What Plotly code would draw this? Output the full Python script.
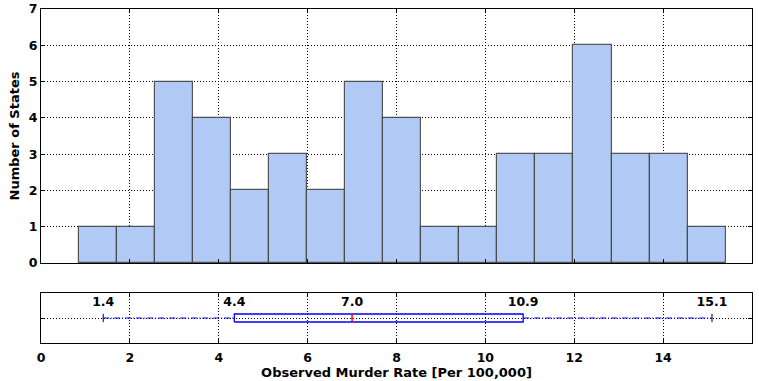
import plotly.graph_objects as go

# ---- data ----
counts = [1, 1, 5, 4, 2, 3, 2, 5, 4, 1, 1, 3, 3, 6, 3, 3, 1]
bin_start = 0.855
bin_width = 0.856
centers = [bin_start + (i + 0.5) * bin_width for i in range(len(counts))]

box_low = 1.4
box_q1 = 4.35
box_median = 7.0
box_q3 = 10.85
box_high = 15.1
box_labels = ["1.4", "4.4", "7.0", "10.9", "15.1"]
box_label_x = [box_low, box_q1, box_median, box_q3, box_high]

x_ticks = [0, 2, 4, 6, 8, 10, 12, 14, 16]
y_ticks = [0, 1, 2, 3, 4, 5, 6, 7]

FONT = "DejaVu Sans"
BLUE = "#0000ff"
BOX_H = 0.08
WHISKER_DASH = "6px,2px,1px,2px"

fig = go.Figure()

fig.add_trace(go.Bar(
    x=centers, y=counts, width=bin_width,
    marker=dict(color="rgb(177,202,245)", line=dict(color="rgba(60,60,60,0.85)", width=1.2)),
    xaxis="x", yaxis="y", showlegend=False, hoverinfo="skip",
))

# whiskers
fig.add_trace(go.Scatter(
    x=[box_low, box_q1], y=[1, 1], mode="lines",
    line=dict(color=BLUE, width=1.2, dash=WHISKER_DASH),
    xaxis="x2", yaxis="y2", showlegend=False,
))
fig.add_trace(go.Scatter(
    x=[box_q3, box_high], y=[1, 1], mode="lines",
    line=dict(color=BLUE, width=1.2, dash=WHISKER_DASH),
    xaxis="x2", yaxis="y2", showlegend=False,
))
# caps
fig.add_trace(go.Scatter(
    x=[box_low, box_high], y=[1, 1], mode="markers",
    marker=dict(symbol="line-ns", size=6, line=dict(color="black", width=1)),
    xaxis="x2", yaxis="y2", showlegend=False,
))
# box
fig.add_trace(go.Scatter(
    x=[box_q1, box_q3, box_q3, box_q1, box_q1],
    y=[1 - BOX_H, 1 - BOX_H, 1 + BOX_H, 1 + BOX_H, 1 - BOX_H],
    mode="lines", line=dict(color=BLUE, width=1.3),
    xaxis="x2", yaxis="y2", showlegend=False,
))
# median
fig.add_trace(go.Scatter(
    x=[box_median, box_median], y=[1 - BOX_H, 1 + BOX_H], mode="lines",
    line=dict(color="red", width=1.5),
    xaxis="x2", yaxis="y2", showlegend=False,
))
# labels
fig.add_trace(go.Scatter(
    x=box_label_x, y=[1.3] * len(box_label_x), mode="text", text=box_labels,
    textfont=dict(family=FONT, size=12.5, color="black", weight="bold"),
    xaxis="x2", yaxis="y2", showlegend=False,
))

axis_common = dict(
    showline=True, linecolor="black", linewidth=1, mirror="ticks",
    ticks="inside", ticklen=4, tickcolor="black",
    showgrid=True, gridcolor="black", griddash="1px,2px", gridwidth=1,
    zeroline=False, layer="above traces", automargin=False,
    tickfont=dict(family=FONT, size=12.5, color="black", weight="bold"),
)

title_font = dict(family=FONT, size=13, color="black", weight="bold")

fig.update_layout(
    width=759, height=381,
    margin=dict(l=41, r=7, t=9, b=38),
    plot_bgcolor="white", paper_bgcolor="white",
    bargap=0,
    xaxis=dict(axis_common, range=[0, 16], tickvals=x_ticks, showticklabels=False,
               domain=[0, 1], anchor="y"),
    yaxis=dict(axis_common, range=[0, 7], tickvals=y_ticks, domain=[0.2395, 1], anchor="x",
               title=dict(text="Number of States", font=title_font, standoff=6)),
    xaxis2=dict(axis_common, range=[0, 16], tickvals=x_ticks, domain=[0, 1], anchor="y2",
                ticklabelstandoff=3,
                title=dict(text="Observed Murder Rate [Per 100,000]", font=title_font, standoff=3)),
    yaxis2=dict(axis_common, range=[0.5, 1.5], tickvals=[1], showticklabels=False,
                domain=[0, 0.1497], anchor="x2"),
)

fig.write_html("out.html")
